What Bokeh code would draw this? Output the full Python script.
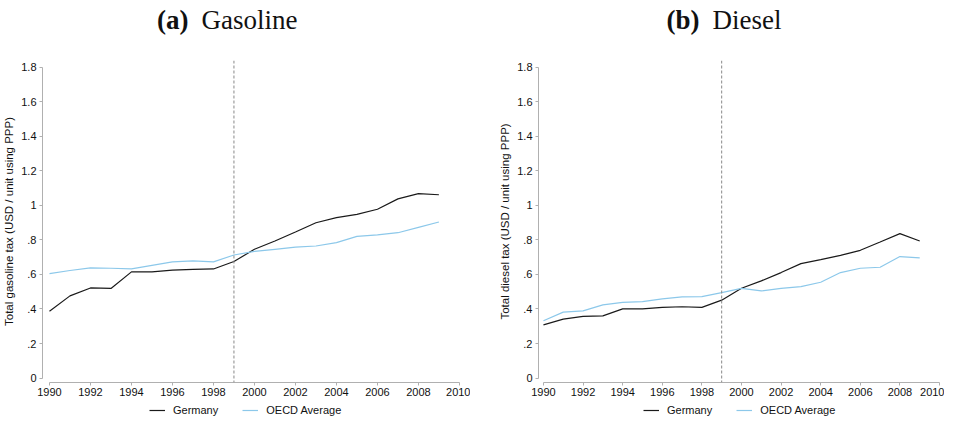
from bokeh.plotting import figure
from bokeh.layouts import row, column
from bokeh.models import Span, Legend, LegendItem, FixedTicker, ColumnDataSource
from bokeh.core.properties import value
from bokeh.embed import file_html
from bokeh.resources import INLINE

years = list(range(1990, 2010))
gas_germany = [0.387, 0.476, 0.522, 0.519, 0.615, 0.615, 0.625, 0.630, 0.632, 0.675,
               0.746, 0.794, 0.846, 0.900, 0.929, 0.948, 0.978, 1.038, 1.069, 1.062]
gas_oecd = [0.605, 0.623, 0.638, 0.636, 0.632, 0.653, 0.673, 0.679, 0.673, 0.713,
            0.734, 0.746, 0.758, 0.765, 0.785, 0.821, 0.829, 0.842, 0.873, 0.904]
dsl_germany = [0.308, 0.341, 0.357, 0.360, 0.401, 0.401, 0.409, 0.413, 0.409, 0.451,
               0.520, 0.563, 0.611, 0.663, 0.686, 0.711, 0.740, 0.788, 0.837, 0.794]
dsl_oecd = [0.332, 0.382, 0.389, 0.424, 0.438, 0.443, 0.459, 0.470, 0.472, 0.495,
            0.519, 0.505, 0.519, 0.530, 0.555, 0.611, 0.636, 0.642, 0.704, 0.696]
y_ticks = [0, 0.2, 0.4, 0.6, 0.8, 1, 1.2, 1.4, 1.6, 1.8]
y_tick_labels = ["0", ".2", ".4", ".6", ".8", "1", "1.2", "1.4", "1.6", "1.8"]
x_ticks = [1990, 1992, 1994, 1996, 1998, 2000, 2002, 2004, 2006, 2008, 2010]
event_year = 1999
series_names = ["Germany", "OECD Average"]
panel_tags = ["(a)", "(b)"]
panel_names = ["Gasoline", "Diesel"]

FONT = "Liberation Sans"
SERIF = "Liberation Serif"
C_GER = "#1a1a1a"
C_OECD = "#8cc8ea"

W_LEFT, W_RIGHT = 470, 474
TOTAL_W = W_LEFT + W_RIGHT
TITLE_H = 42
LEG_H = 17
TOP, FRAME_H, BOTTOM = 18, 322, 18
H = TOP + FRAME_H + BOTTOM
Y0, Y1 = -0.026, 1.84
X1 = 2010.15


def bare(width, height, xr, yr):
    f = figure(width=width, height=height, output_backend="svg", toolbar_location=None,
               x_range=xr, y_range=yr, min_border=0, min_border_left=0,
               min_border_right=0, min_border_top=0, min_border_bottom=0)
    f.axis.visible = False
    f.grid.visible = False
    f.outline_line_color = None
    return f


# ---- title strip ----
tf = bare(TOTAL_W, TITLE_H, (0, TOTAL_W), (0, TITLE_H))
tag_src = ColumnDataSource(dict(x=[188, 699], y=[23, 23], t=panel_tags))
name_src = ColumnDataSource(dict(x=[201, 712], y=[23, 23], t=panel_names))
tf.text(x="x", y="y", text="t", source=tag_src, text_font=value(SERIF),
        text_font_size="27px", text_font_style="bold", text_align="right",
        text_baseline="middle", text_color="#111111")
tf.text(x="x", y="y", text="t", source=name_src, text_font=value(SERIF),
        text_font_size="27px", text_font_style="normal", text_align="left",
        text_baseline="middle", text_color="#111111")


def make_panel(width, ylabel, ger, oecd, x_start, left_border, right_border):
    p = figure(width=width, height=H, output_backend="svg", toolbar_location=None,
               x_range=(x_start, X1), y_range=(Y0, Y1),
               min_border_left=left_border, min_border_right=right_border,
               min_border_top=TOP, min_border_bottom=BOTTOM)
    p.grid.visible = False
    p.outline_line_color = None
    p.background_fill_color = "white"

    for ax in (p.xaxis[0], p.yaxis[0]):
        ax.axis_line_color = "#b0b0b0"
        ax.major_tick_line_color = "#b0b0b0"
        ax.minor_tick_line_color = None
        ax.major_tick_out = 3
        ax.major_tick_in = 0
        ax.major_label_text_font = FONT
        ax.major_label_text_font_size = "11px"
        ax.major_label_text_color = "#111111"
    p.xaxis[0].ticker = FixedTicker(ticks=x_ticks)
    p.xaxis[0].bounds = (x_ticks[0], x_ticks[-1])
    p.xaxis[0].major_label_standoff = 2
    p.yaxis[0].ticker = FixedTicker(ticks=y_ticks)
    p.yaxis[0].bounds = (y_ticks[0], y_ticks[-1])
    p.yaxis[0].major_label_overrides = {t: l for t, l in zip(y_ticks, y_tick_labels)}
    p.yaxis[0].major_label_orientation = "horizontal"
    p.yaxis[0].major_label_standoff = 3
    p.yaxis[0].axis_label = ylabel
    p.yaxis[0].axis_label_text_font = FONT
    p.yaxis[0].axis_label_text_font_size = "11.5px"
    p.yaxis[0].axis_label_text_font_style = "normal"
    p.yaxis[0].axis_label_text_color = "#111111"
    p.yaxis[0].axis_label_standoff = 3

    p.add_layout(Span(location=event_year, dimension="height", line_color="#888888",
                      line_dash="3 2", line_width=1))

    p.line(years, ger, line_color=C_GER, line_width=1.2)
    p.line(years, oecd, line_color=C_OECD, line_width=1.2)
    return p


def make_legend(width, left_px, ger, oecd):
    # key strip: the series lie outside this strip's view; only the key shows
    lf = bare(width, LEG_H, (0, 1), (0, 1))
    r1 = lf.line(years, ger, line_color=C_GER, line_width=1.2)
    r2 = lf.line(years, oecd, line_color=C_OECD, line_width=1.2)
    legend = Legend(items=[LegendItem(label=series_names[0], renderers=[r1]),
                           LegendItem(label=series_names[1], renderers=[r2])],
                    orientation="horizontal", location=(left_px, 1),
                    label_text_font=FONT, label_text_font_size="11px",
                    label_text_color="#111111", label_height=12,
                    glyph_width=16, glyph_height=12, label_standoff=8, spacing=24,
                    border_line_color=None, background_fill_alpha=0,
                    padding=0, margin=0)
    lf.add_layout(legend, "center")
    return lf


p1 = make_panel(W_LEFT, "Total gasoline tax (USD / unit using PPP)",
                gas_germany, gas_oecd, 1989.66, 42, 8)
p2 = make_panel(W_RIGHT, "Total diesel tax (USD / unit using PPP)",
                dsl_germany, dsl_oecd, 1989.75, 68, 2)

layout = column(tf, row(p1, p2),
                row(make_legend(W_LEFT, 149, gas_germany, gas_oecd),
                    make_legend(W_RIGHT, 173, dsl_germany, dsl_oecd)))
open("out.html", "w").write(file_html(layout, INLINE))
